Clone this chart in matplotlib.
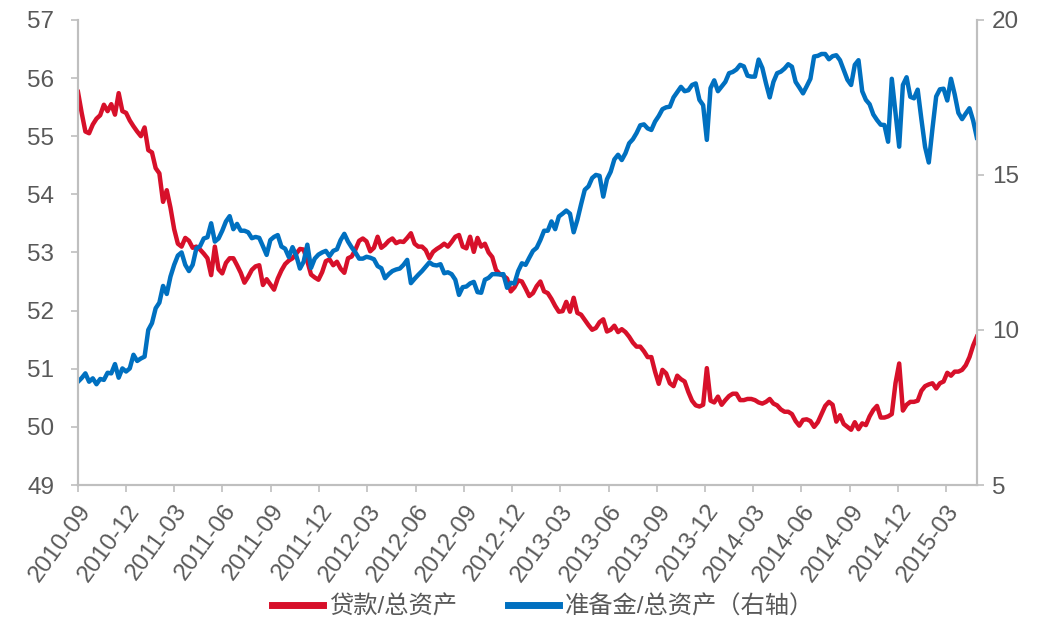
import datetime as dt
import matplotlib
matplotlib.use("Agg")
import matplotlib.pyplot as plt
import matplotlib.dates as mdates

plt.rcParams["font.family"] = ["Liberation Sans", "Noto Sans CJK SC", "DejaVu Sans"]

# weekly observations, first one on 2010-09-01
start = dt.date(2010, 9, 1)

# loans / total assets (%), left axis
loans = [
    55.76, 55.40, 55.08, 55.05, 55.20, 55.30, 55.36, 55.54, 55.43, 55.55, 55.37, 55.74, 55.43,
    55.40, 55.27, 55.17, 55.08, 55.00, 55.15, 54.76, 54.72, 54.45, 54.36, 53.87, 54.07, 53.77,
    53.40, 53.15, 53.10, 53.25, 53.20, 53.08, 53.10, 53.05, 52.98, 52.90, 52.61, 53.10, 52.71,
    52.64, 52.82, 52.90, 52.90, 52.78, 52.65, 52.48, 52.58, 52.70, 52.76, 52.78, 52.44, 52.54,
    52.45, 52.36, 52.55, 52.69, 52.80, 52.86, 52.90, 52.98, 53.06, 53.05, 52.85, 52.62, 52.57,
    52.53, 52.66, 52.85, 52.88, 52.78, 52.84, 52.72, 52.65, 52.90, 52.93, 53.05, 53.20, 53.24,
    53.19, 53.02, 53.08, 53.27, 53.08, 53.13, 53.20, 53.24, 53.16, 53.19, 53.18, 53.25, 53.33,
    53.15, 53.10, 53.10, 53.04, 52.90, 53.01, 53.06, 53.10, 53.15, 53.10, 53.18, 53.27, 53.30,
    53.10, 53.07, 53.27, 53.01, 53.25, 53.10, 53.15, 53.00, 52.92, 52.70, 52.63, 52.60, 52.55,
    52.33, 52.40, 52.52, 52.50, 52.38, 52.25, 52.30, 52.42, 52.50, 52.33, 52.30, 52.20, 52.08,
    51.98, 51.99, 52.15, 51.98, 52.22, 51.96, 51.93, 51.84, 51.75, 51.67, 51.70, 51.80, 51.85,
    51.64, 51.67, 51.74, 51.63, 51.68, 51.63, 51.55, 51.45, 51.38, 51.38, 51.30, 51.20, 51.20,
    50.95, 50.74, 50.98, 50.92, 50.75, 50.70, 50.88, 50.82, 50.78, 50.60, 50.45, 50.37, 50.35,
    50.38, 51.01, 50.45, 50.42, 50.52, 50.38, 50.46, 50.53, 50.57, 50.57, 50.46, 50.46, 50.48,
    50.48, 50.46, 50.42, 50.40, 50.43, 50.48, 50.40, 50.37, 50.30, 50.26, 50.26, 50.22, 50.10,
    50.02, 50.12, 50.13, 50.10, 50.00, 50.08, 50.22, 50.36, 50.43, 50.38, 50.09, 50.20, 50.05,
    50.00, 49.95, 50.08, 49.96, 50.06, 50.03, 50.18, 50.29, 50.36, 50.16, 50.16, 50.18, 50.22,
    50.75, 51.09, 50.28, 50.38, 50.43, 50.43, 50.45, 50.62, 50.70, 50.73, 50.75, 50.66, 50.75,
    50.78, 50.93, 50.88, 50.95, 50.95, 50.98, 51.06, 51.20, 51.40, 51.55,
]

# reserves / total assets (%), right axis
reserves = [
    8.33, 8.45, 8.60, 8.33, 8.44, 8.25, 8.42, 8.39, 8.62, 8.60, 8.90, 8.46, 8.76,
    8.66, 8.76, 9.20, 9.00, 9.08, 9.14, 10.00, 10.22, 10.70, 10.88, 11.42, 11.16, 11.72,
    12.10, 12.40, 12.50, 12.10, 11.90, 12.10, 12.63, 12.70, 12.95, 12.99, 13.44, 12.85, 12.95,
    13.20, 13.50, 13.67, 13.25, 13.42, 13.20, 13.20, 13.15, 12.96, 13.00, 12.97, 12.70, 12.42,
    12.90, 13.00, 13.06, 12.69, 12.62, 12.35, 12.67, 12.40, 11.98, 12.20, 12.75, 12.00, 12.30,
    12.43, 12.50, 12.55, 12.38, 12.55, 12.60, 12.90, 13.10, 12.85, 12.66, 12.50, 12.30, 12.30,
    12.36, 12.33, 12.28, 12.06, 11.99, 11.67, 11.80, 11.90, 11.95, 11.98, 12.10, 12.26, 11.51,
    11.65, 11.78, 11.90, 12.04, 12.18, 12.10, 12.08, 12.12, 11.83, 11.86, 11.80, 11.62, 11.13,
    11.38, 11.40, 11.50, 11.55, 11.22, 11.20, 11.62, 11.68, 11.80, 11.80, 11.79, 11.80, 11.36,
    11.52, 11.50, 11.90, 12.15, 12.10, 12.33, 12.55, 12.65, 12.90, 13.20, 13.20, 13.50, 13.25,
    13.66, 13.75, 13.85, 13.75, 13.15, 13.55, 14.05, 14.52, 14.63, 14.90, 15.00, 14.97, 14.30,
    14.86, 15.10, 15.50, 15.65, 15.48, 15.70, 16.02, 16.15, 16.35, 16.60, 16.63, 16.50, 16.45,
    16.72, 16.90, 17.12, 17.18, 17.20, 17.50, 17.67, 17.84, 17.70, 17.73, 17.90, 17.95, 17.42,
    17.25, 16.13, 17.80, 18.05, 17.70, 17.85, 18.00, 18.28, 18.32, 18.40, 18.55, 18.50, 18.20,
    18.17, 18.17, 18.72, 18.45, 17.95, 17.50, 18.00, 18.28, 18.33, 18.43, 18.57, 18.49, 18.00,
    17.82, 17.63, 17.86, 18.10, 18.82, 18.84, 18.90, 18.90, 18.73, 18.83, 18.86, 18.70, 18.38,
    18.07, 17.90, 18.55, 18.70, 17.70, 17.42, 17.28, 16.95, 16.77, 16.62, 16.61, 16.07, 18.10,
    17.00, 15.91, 17.90, 18.15, 17.52, 17.47, 17.75, 16.80, 15.90, 15.40, 16.50, 17.53, 17.76,
    17.78, 17.40, 18.10, 17.60, 17.00, 16.80, 16.98, 17.15, 16.75, 16.20,
]

label_loans = "贷款/总资产"
label_reserves = "准备金/总资产（右轴）"

dates = [start + dt.timedelta(weeks=i) for i in range(len(loans))]

red = "#D7102A"
blue = "#0070C0"
grey = "#BFBFBF"
txt = "#595959"
fs = 17.5

fig = plt.figure(figsize=(10.44, 6.21), dpi=100)
ax = fig.add_axes([0.0747, 0.219, 0.861, 0.749])
ax2 = ax.twinx()

l1, = ax.plot(dates, loans, color=red, linewidth=3.2, solid_joinstyle="round")
l2, = ax2.plot(dates, reserves, color=blue, linewidth=3.2, solid_joinstyle="round")

ax.set_xlim(dates[0], dates[-1])
ax.set_ylim(49, 57)
ax.set_yticks(range(49, 58))
ax2.set_ylim(5, 20)
ax2.set_yticks([5, 10, 15, 20])

ax.xaxis.set_major_locator(mdates.MonthLocator(bymonth=[3, 6, 9, 12]))
ax.xaxis.set_major_formatter(mdates.DateFormatter("%Y-%m"))

for a in (ax, ax2):
    for s in a.spines.values():
        s.set_color(grey)
        s.set_linewidth(1.5)
    a.spines["top"].set_visible(False)
    a.tick_params(axis="both", colors=grey, labelcolor=txt, labelsize=fs,
                  length=5, width=1.2, direction="out", pad=6)
ax.tick_params(axis="y", pad=12)

for lab in ax.get_xticklabels():
    lab.set_rotation(54)
    lab.set_ha("right")
    lab.set_rotation_mode("anchor")

fig.legend([l1, l2], [label_loans, label_reserves], loc="lower center",
           bbox_to_anchor=(0.52, -0.032), ncol=2, frameon=False,
           fontsize=fs, handlelength=2.1, handletextpad=0.25, columnspacing=2.1,
           labelcolor=txt)
for h in fig.legends[0].get_lines():
    h.set_linewidth(5)

fig.savefig("out.png", dpi=100)
